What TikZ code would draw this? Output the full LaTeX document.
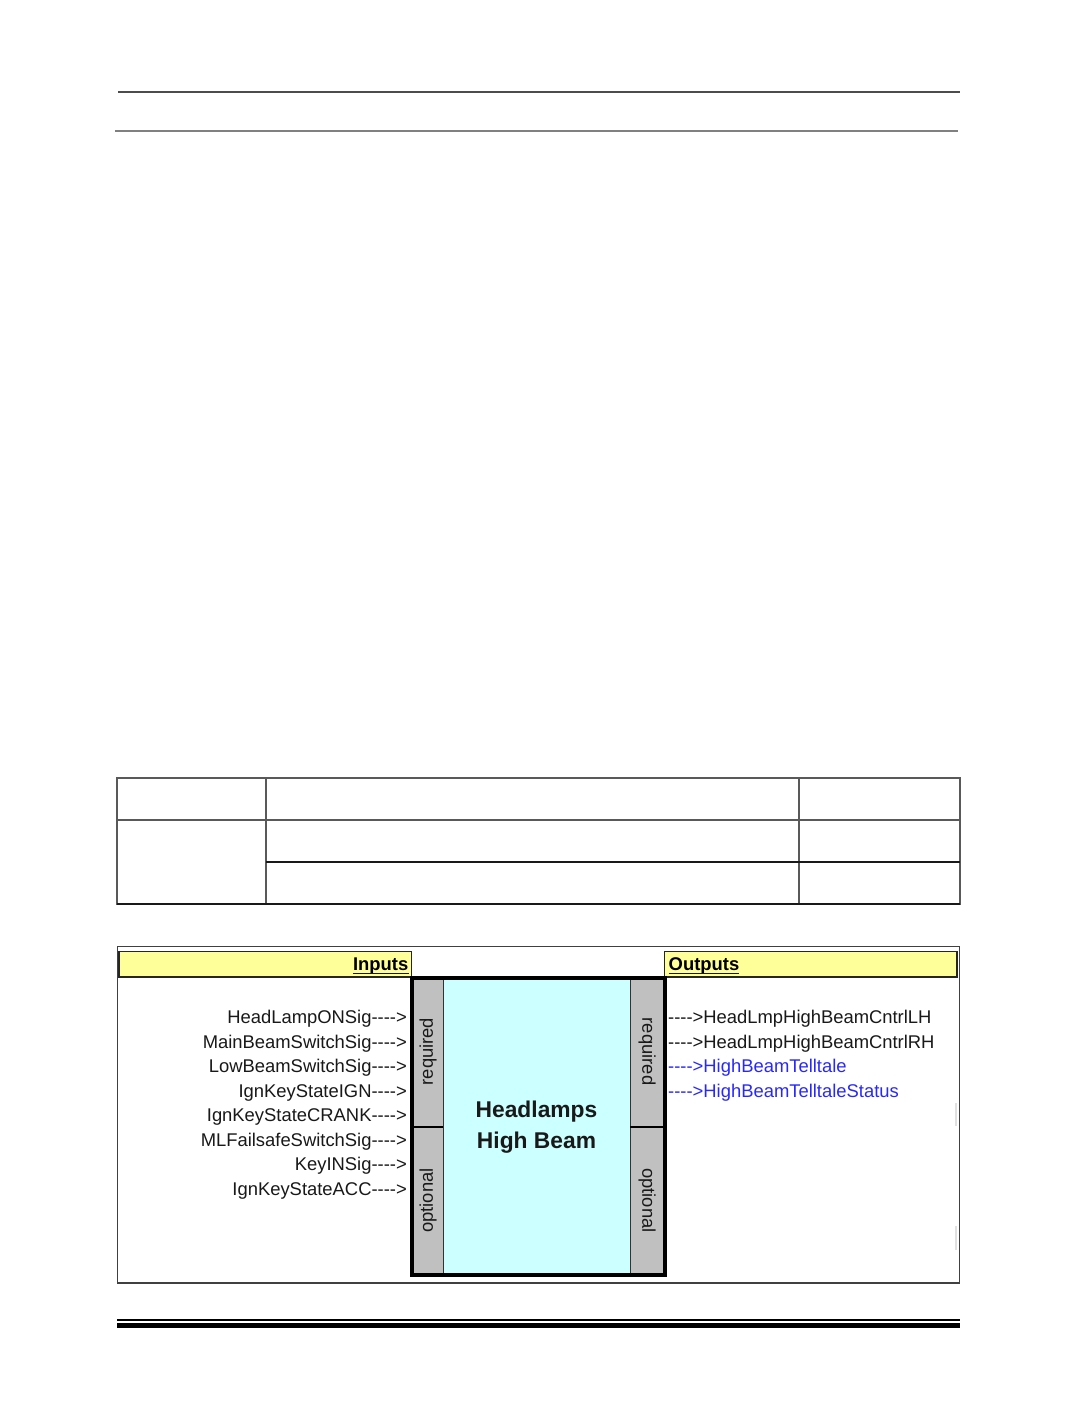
\documentclass[tikz,border=0pt]{standalone}
\usepackage{fontspec}
\setmainfont{Liberation Sans}
\usepackage{xcolor}
\usepackage{tikz}

\definecolor{hdryellow}{RGB}{255,255,153}
\definecolor{blockcyan}{RGB}{204,255,255}
\definecolor{stripgray}{RGB}{192,192,192}
\definecolor{sigblue}{RGB}{40,40,250}
\definecolor{textblack}{RGB}{25,25,25}
\newcommand{\sigarrow}{-{}-{}-{}->}

\begin{document}
\begin{tikzpicture}[
    x=1pt, y=-1pt,
    sig/.style={font=\fontsize{18.4}{20}\selectfont, text=textblack, inner sep=0pt},
    hdrbox/.style={fill=hdryellow, draw=black!85, line width=1.3pt},
    hdrtext/.style={font=\bfseries\fontsize{18.4}{20}\selectfont, inner sep=0pt},
    hdrline/.style={line width=1.4pt, textblack},
    striplabel/.style={font=\fontsize{18.4}{20}\selectfont, text=textblack, inner sep=0pt}]

    \useasboundingbox [fill=white] (0, 0) rectangle (1075, 1422);

    % page rules
    \draw [line width=1.2pt, black!70] (118, 92) -- (960, 92);
    \draw [line width=2pt, black!50] (115, 131) -- (958, 131);

    % empty table
    \draw [line width=1.2pt, black!65] (117, 778) rectangle (960, 904);
    \draw [line width=1.2pt, black!65] (266, 778) -- (266, 904);
    \draw [line width=1.2pt, black!65] (799, 778) -- (799, 904);
    \draw [line width=1.2pt, black!65] (117, 820) -- (960, 820);
    \draw [line width=1.2pt, black!90] (266, 862) -- (960, 862);
    \draw [line width=1.2pt, black!90] (117, 904) -- (960, 904);

    % frame and headers
    \draw [line width=1.2pt, black!75] (117.5, 946.5) rectangle (959.5, 1283);
    \draw [hdrbox] (119, 951.5) rectangle (411.5, 977);
    \draw [hdrbox] (664.5, 951.5) rectangle (957, 977);
    \node [hdrtext, anchor=base east] (inhdr) at (408.5, 970.5) {Inputs};
    \node [hdrtext, anchor=base west] (outhdr) at (668.5, 970.5) {Outputs};
    \draw [hdrline] ([yshift=-3pt]inhdr.base west) -- ([yshift=-3pt]inhdr.base east);
    \draw [hdrline] ([yshift=-3pt]outhdr.base west) -- ([yshift=-3pt]outhdr.base east);
    \fill [black!12] (954.5, 1103) rectangle (957, 1126);
    \fill [black!12] (954.5, 1226) rectangle (957, 1250);

    % block
    \fill [stripgray] (412, 978) rectangle (665, 1275);
    \fill [blockcyan] (443, 978) rectangle (630, 1275);
    \draw [line width=1pt, black!80] (443, 978) -- (443, 1275);
    \draw [line width=1pt, black!80] (630, 978) -- (630, 1275);
    \draw [line width=1.8pt] (412, 1127) -- (443, 1127);
    \draw [line width=1.8pt] (630, 1127) -- (665, 1127);
    \draw [line width=4pt] (412, 978) rectangle (665, 1275);

    \node [striplabel, rotate=90] (reqin) at (428, 1051.5) {required};
    \node [striplabel, rotate=90] (optin) at (428, 1200.5) {optional};
    \node [striplabel, rotate=-90] (reqout) at (647, 1051.5) {required};
    \node [striplabel, rotate=-90] (optout) at (647, 1200.5) {optional};
    \node [font=\bfseries\fontsize{22.8}{31}\selectfont, text=textblack, align=center,
      inner sep=0pt] (block) at (536.5, 1127.5) {Headlamps\\High Beam};

    % signals
    \foreach \name [count=\i] in {HeadLampONSig, MainBeamSwitchSig,
      LowBeamSwitchSig, IgnKeyStateIGN, IgnKeyStateCRANK,
      MLFailsafeSwitchSig, KeyINSig, IgnKeyStateACC}
      \node [sig, anchor=base east] (in\i) at (407, {999 + 24.5*\i}) {\name\sigarrow};

    \node [sig, anchor=base west] (out1) at (668, 1023.5) {\sigarrow HeadLmpHighBeamCntrlLH};
    \node [sig, anchor=base west] (out2) at (668, 1048) {\sigarrow HeadLmpHighBeamCntrlRH};
    \node [sig, anchor=base west, text=sigblue] (out3) at (668, 1072.5) {\sigarrow HighBeamTelltale};
    \node [sig, anchor=base west, text=sigblue] (out4) at (668, 1097) {\sigarrow HighBeamTelltaleStatus};

    % bottom rules
    \draw [line width=2pt] (117, 1320) -- (960, 1320);
    \draw [line width=5pt] (117, 1325.5) -- (960, 1325.5);

  \end{tikzpicture}
\end{document}
